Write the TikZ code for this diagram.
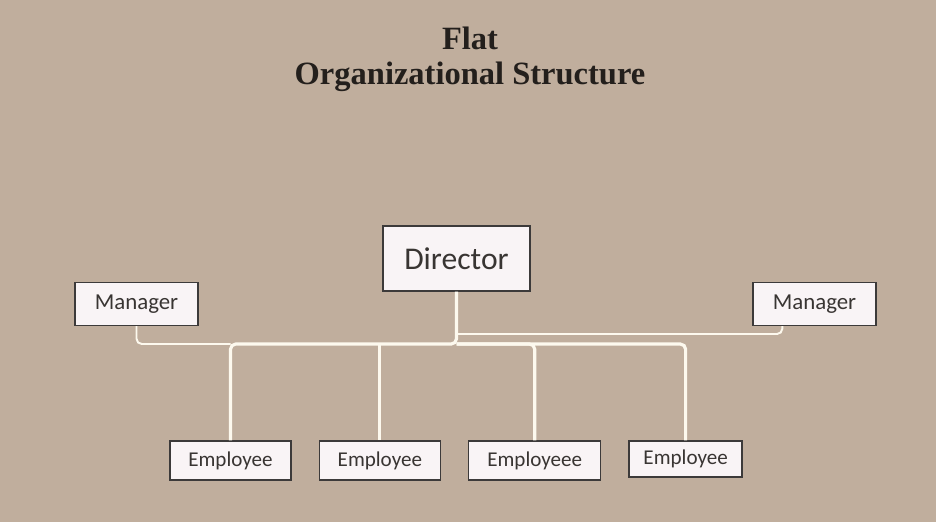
\documentclass[tikz,border=0pt]{standalone}
\usepackage{fontspec}
\setmainfont{Liberation Serif}
\newfontfamily\boxfont{Carlito}
\usetikzlibrary{positioning,calc}
\definecolor{bg}{RGB}{192,174,157}
\definecolor{boxfill}{RGB}{249,244,246}
\definecolor{boxline}{RGB}{60,58,58}
\definecolor{wire}{RGB}{253,249,238}
\definecolor{ink}{RGB}{35,31,28}
\tikzset{
  box/.style={draw=boxline,fill=boxfill,line width=0.8pt,inner sep=0pt,text=ink!90,font=\boxfont},
  bus/.style={draw=wire,line width=1.8pt,rounded corners=3pt},
  mwire/.style={draw=wire,line width=1.1pt,rounded corners=3pt}
}
\begin{document}
\begin{tikzpicture}[x=0.02cm,y=-0.02cm,node distance=0.54cm]
\fill[bg] (0,0) rectangle (936,522);
\useasboundingbox (0,0) rectangle (936,522);
% title
\node[font=\bfseries\fontsize{18.5}{20}\selectfont,text=ink,align=center] (title) at (470,59) {Flat\\Organizational Structure};
% boxes
\node[box,minimum width=2.94cm,minimum height=1.3cm,font=\boxfont\fontsize{18}{20}\selectfont] (dir) at (456.5,258.5) {Director};
\node[box,minimum width=2.46cm,minimum height=0.86cm,font=\boxfont\fontsize{13}{15}\selectfont] (ml) at (136.5,304) {Manager};
\node[box,minimum width=2.46cm,minimum height=0.86cm,font=\boxfont\fontsize{13}{15}\selectfont] (mr) at (814.5,304) {Manager};
\node[box,minimum width=2.42cm,minimum height=0.78cm,font=\boxfont\fontsize{12}{14}\selectfont] (e1) at (230.5,460.5) {Employee};
\node[box,minimum width=2.42cm,minimum height=0.78cm,font=\boxfont\fontsize{12}{14}\selectfont,right=of e1] (e2) {Employee};
\node[box,minimum width=2.64cm,minimum height=0.78cm,font=\boxfont\fontsize{12}{14}\selectfont,right=of e2] (e3) {Employeee};
\node[box,minimum width=2.26cm,minimum height=0.72cm,font=\boxfont\fontsize{12}{14}\selectfont,right=of e3,yshift=0.03cm] (e4) {Employee};
% connectors
\coordinate (j) at (456.5,344);
\coordinate (jr) at (456.5,334);
\draw[mwire] (ml.south) |- (e1.north |- j);
\draw[mwire] (jr) -| ([xshift=0.6cm]mr.south west);
\draw[bus] (dir.south) -- (j) -| (e1.north);
\draw[bus] (j) -| (e4.north);
\draw[bus] (j) -| (e3.north);
\draw[bus] (e2.north |- j) -- (e2.north);
\end{tikzpicture}
\end{document}
